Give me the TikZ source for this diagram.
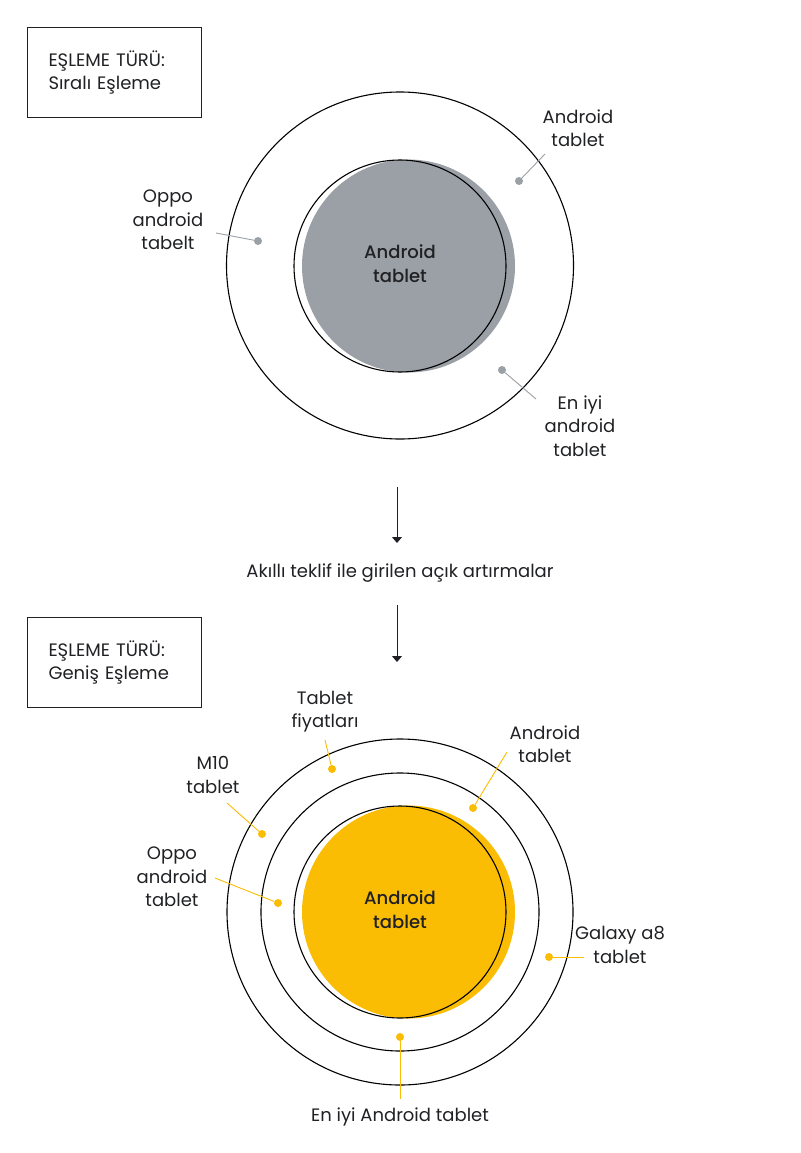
\documentclass[tikz,border=0pt]{standalone}
\usepackage{fontspec}
\setmainfont{Poppins}[BoldFont={Poppins Medium}]
\usetikzlibrary{arrows.meta,positioning}
\definecolor{cGrey}{HTML}{9AA0A6}
\definecolor{cGold}{HTML}{FBBC04}
\definecolor{cInk} {HTML}{202124}
\tikzset{
  ring/.style   ={draw=black,line width=1.1pt,circle,inner sep=0pt},
  disc/.style   ={circle,inner sep=0pt,draw=none},
  typebox/.style={draw=cInk,line width=1pt,anchor=north west,align=left,
                  text width=132pt,inner xsep=21pt,minimum height=90pt,
                  font=\fontsize{18}{23.5}\selectfont,text=cInk},
  lbl/.style    ={align=center,font=\fontsize{18}{23.5}\selectfont,text=cInk,inner sep=0pt},
  core/.style   ={lbl,font=\fontsize{18}{23.5}\selectfont\bfseries},
  bead/.style   ={circle,fill=#1,inner sep=0pt,minimum size=8pt},
  leader/.style ={draw=#1,line width=0.9pt},
  flow/.style   ={-{Triangle[width=10pt,length=6pt]},draw=cInk,line width=1pt},
}
\begin{document}
\begin{tikzpicture}[x=1pt,y=-1pt]
\useasboundingbox (0,0) rectangle (800,1153);

% ===== exact match ===========================================================
\node[typebox] (typeA) at (27,27) {EŞLEME TÜRÜ:\\Sıralı Eşleme};
\node[ring,minimum size=347pt] (outerA) at (400,265.5) {};
\node[disc,fill=cGrey,minimum size=213pt] (discA) at (408.5,266) {};
\node[ring,minimum size=212pt] (innerA) at (400,266) {};
\node[core] (coreA) at (400,263.5) {Android\\tablet};

\node[bead=cGrey] (bA1) at (519,181) {};
\node[bead=cGrey] (bA2) at (258,241) {};
\node[bead=cGrey] (bA3) at (502,370) {};
\coordinate (eA1) at (545,154);
\coordinate (eA2) at (216,233);
\coordinate (eA3) at (536,399);
\draw[leader=cGrey] (bA1) -- (eA1);
\draw[leader=cGrey] (bA2) -- (eA2);
\draw[leader=cGrey] (bA3) -- (eA3);
\node[lbl] (lA1) at (578,128) {Android\\tablet};
\node[lbl] (lA2) at (168,220) {Oppo\\android\\tabelt};
\node[lbl] (lA3) at (580,426) {En iyi\\android\\tablet};

% ===== smart bidding =========================================================
\node[lbl] (bid) at (400,573) {Akıllı teklif ile girilen açık artırmalar};
\coordinate (fA) at (397,487);
\coordinate (fB) at (397,543);
\coordinate (fC) at (397,605);
\coordinate (fD) at (397,662);
\draw[flow] (fA) -- (fB);
\draw[flow] (fC) -- (fD);

% ===== broad match ===========================================================
\node[typebox] (typeB) at (27,617) {EŞLEME TÜRÜ:\\Geniş Eşleme};
\node[ring,minimum size=346pt] (outerB) at (400,912) {};
\node[ring,minimum size=278pt] (midB) at (400,912) {};
\node[disc,fill=cGold,minimum size=213pt] (discB) at (408.5,912) {};
\node[ring,minimum size=212pt] (innerB) at (400,912) {};
\node[core] (coreB) at (400,909.5) {Android\\tablet};

\node[bead=cGold] (bB1) at (332,769) {};
\node[bead=cGold] (bB2) at (262,834) {};
\node[bead=cGold] (bB3) at (278,903) {};
\node[bead=cGold] (bB4) at (473,808) {};
\node[bead=cGold] (bB5) at (549,957) {};
\node[bead=cGold] (bB6) at (400,1037) {};
\coordinate (eB1) at (325,740);
\coordinate (eB2) at (227,803);
\coordinate (eB3) at (215,878);
\coordinate (eB4) at (507,752);
\coordinate (eB5) at (584,957);
\coordinate (eB6) at (400,1099);
\foreach \i in {1,...,6}
  \draw[leader=cGold] (bB\i) -- (eB\i);
\node[lbl] (lB1) at (325,711.5) {Tablet\\fiyatları};
\node[lbl] (lB2) at (213,775) {M10\\tablet};
\node[lbl] (lB3) at (172,877) {Oppo\\android\\tablet};
\node[lbl] (lB4) at (545,744) {Android\\tablet};
\node[lbl] (lB5) at (620,945) {Galaxy a8\\tablet};
\node[lbl] (lB6) at (400,1117) {En iyi Android tablet};
\end{tikzpicture}
\end{document}
